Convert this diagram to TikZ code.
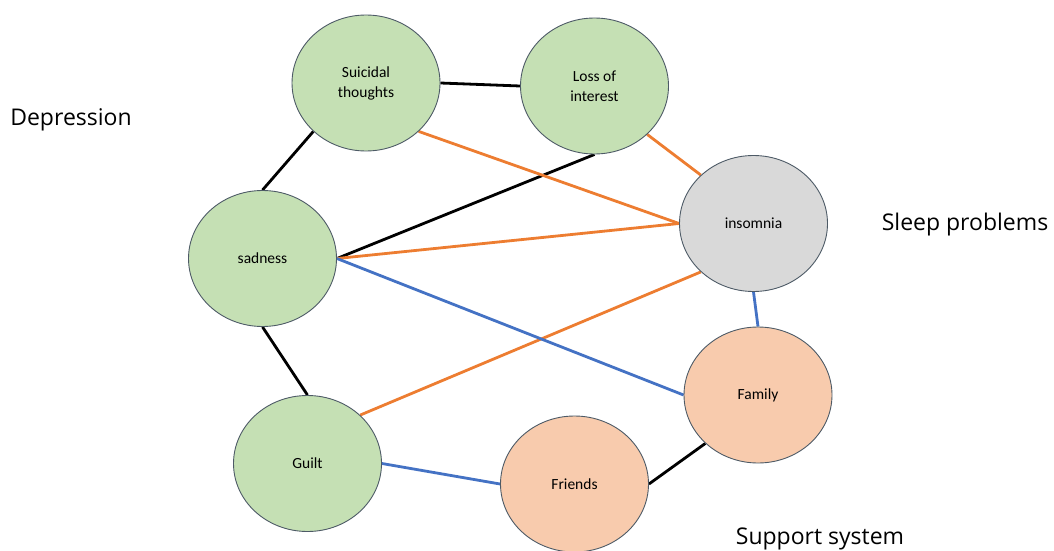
\documentclass[tikz,border=0pt]{standalone}
\usepackage{fontspec}
\usetikzlibrary{shapes.geometric,backgrounds}
\setmainfont{Carlito}
\newfontfamily\groupfont{Open Sans}
\definecolor{greenfill}{HTML}{C5E0B4}
\definecolor{grayfill}{HTML}{D9D9D9}
\definecolor{peachfill}{HTML}{F8CBAD}
\definecolor{edgeorange}{HTML}{ED7D31}
\definecolor{edgeblue}{HTML}{4472C4}
\definecolor{outline}{HTML}{4D5A66}
\begin{document}
\begin{tikzpicture}[x=1pt,y=-1pt,
  symptom/.style={ellipse, draw=outline, line width=0.9pt, inner sep=0pt,
    minimum width=148pt, minimum height=136pt, align=center,
    font=\fontsize{15.5}{20}\selectfont},
  dep/.style={symptom, fill=greenfill},
  sleep/.style={symptom, fill=grayfill},
  support/.style={symptom, fill=peachfill},
  group/.style={font=\groupfont\fontsize{23}{27}\selectfont},
  blk/.style={line width=2.8pt, black},
  org/.style={line width=2.8pt, edgeorange},
  blu/.style={line width=2.8pt, edgeblue}]
\useasboundingbox (0,0) rectangle (1054,551);

% the seven ellipses
\node[dep]     (suicidal) at (366,83)      {Suicidal\\thoughts};
\node[dep]     (loss)     at (594.5,86)    {Loss of\\interest};
\node[sleep]   (insomnia) at (753.5,223.5) {insomnia};
\node[dep]     (sadness)  at (262.5,258.5) {sadness};
\node[support] (family)   at (758,395)     {Family};
\node[dep]     (guilt)    at (307.5,463.5) {Guilt};
\node[support] (friends)  at (574.5,484)   {Friends};

% connectors, kept behind the ellipses
\begin{scope}[on background layer]
\draw[blk] (suicidal.east) -- (loss.west);
\draw[blk] (suicidal.south west) -- (sadness.north);
\draw[blk] (loss.south) -- (sadness.east);
\draw[org] (suicidal.south east) -- (insomnia.west);
\draw[org] (loss.south east) -- (insomnia.north west);
\draw[org] (sadness.east) -- (insomnia.west);
\draw[org] (guilt.north east) -- (insomnia.south west);
\draw[blu] (sadness.east) -- (family.west);
\draw[blu] (insomnia.south) -- (family.north);
\draw[blk] (sadness.south) -- (guilt.north);
\draw[blu] (guilt.east) -- (friends.west);
\draw[blk] (friends.east) -- (family.south west);
\end{scope}

% group labels
\node[group] (depression) at (71,120)  {Depression};
\node[group] (sleepprob)  at (965,225) {Sleep problems};
\node[group] (supportsys) at (820,539) {Support system};
\end{tikzpicture}
\end{document}
